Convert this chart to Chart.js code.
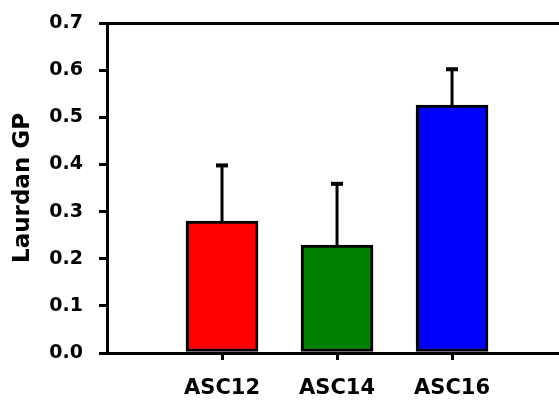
<!DOCTYPE html>
<html>
<head>
<meta charset="utf-8">
<script src="https://cdn.jsdelivr.net/npm/chart.js@4/dist/chart.umd.min.js"></script>
<style>
html,body{margin:0;padding:0;background:#fff;}
#wrap{width:559px;height:400px;}
</style>
</head>
<body>
<div id="wrap"><canvas id="c" width="559" height="400"></canvas></div>
<script>
const categories = ['ASC12', 'ASC14', 'ASC16'];
const positions = [1, 2, 3];
const values = [0.280, 0.229, 0.526];
const errors = [0.120, 0.132, 0.078];
const colors = ['#ff0000', '#008000', '#0000ff'];
const yTicks = [0, 0.1, 0.2, 0.3, 0.4, 0.5, 0.6, 0.7];
const xMax = 3.93;

const FONT = 'DejaVu Sans';

const errorBarPlugin = {
  id: 'errorBars',
  afterDatasetsDraw(chart) {
    const ctx = chart.ctx;
    const xs = chart.scales.x, ys = chart.scales.y;
    ctx.save();
    ctx.strokeStyle = '#000';
    ctx.lineCap = 'butt';
    values.forEach((v, i) => {
      const px = xs.getPixelForValue(positions[i]);
      const y0 = ys.getPixelForValue(v);
      const y1 = ys.getPixelForValue(v + errors[i]);
      ctx.lineWidth = 3;
      ctx.beginPath();
      ctx.moveTo(px, y0);
      ctx.lineTo(px, y1);
      ctx.stroke();
      ctx.lineWidth = 4;
      ctx.beginPath();
      ctx.moveTo(px - 6, y1 + 1);
      ctx.lineTo(px + 6, y1 + 1);
      ctx.stroke();
    });
    ctx.restore();
  }
};

new Chart(document.getElementById('c'), {
  type: 'bar',
  data: {
    datasets: [{
      data: positions.map((p, i) => ({x: p, y: values[i]})),
      backgroundColor: colors,
      borderColor: '#000',
      borderWidth: 3,
      borderSkipped: false,
      barThickness: 72
    }]
  },
  options: {
    responsive: false,
    animation: false,
    layout: {padding: {left: 0, right: 0, top: 23, bottom: 0}},
    plugins: {legend: {display: false}, tooltip: {enabled: false}},
    scales: {
      x: {
        type: 'linear',
        offset: false,
        min: 0,
        max: xMax,
        afterBuildTicks(s) { s.ticks = positions.map(v => ({value: v})); },
        afterFit(s) { s.height = 47; s.paddingLeft = 0; s.paddingRight = 0; },
        ticks: {
          callback: (v) => categories[positions.indexOf(v)] || '',
          color: '#000',
          font: {family: FONT, size: 21, weight: 'bold'},
          padding: 16,
          maxRotation: 0
        },
        grid: {offset: false, drawOnChartArea: false, drawTicks: true, tickLength: 7, color: '#000', lineWidth: 3},
        border: {display: true, color: '#000', width: 3}
      },
      x2: {
        type: 'linear',
        position: 'top',
        offset: false,
        min: 0,
        max: xMax,
        afterFit(s) { s.height = 0; s.paddingLeft = 0; s.paddingRight = 0; },
        ticks: {display: false},
        grid: {display: false, drawTicks: false},
        border: {display: true, color: '#000', width: 3}
      },
      y: {
        min: 0,
        max: 0.7,
        afterBuildTicks(s) { s.ticks = yTicks.map(v => ({value: v})); },
        afterFit(s) { s.width = 107; s.paddingTop = 0; s.paddingBottom = 0; },
        ticks: {
          callback: (v) => v.toFixed(1),
          color: '#000',
          font: {family: FONT, size: 19, weight: 'bold'},
          padding: 16
        },
        title: {
          display: true,
          text: 'Laurdan GP',
          color: '#000',
          font: {family: FONT, size: 23, weight: 'bold'},
          padding: {top: 9, bottom: 0}
        },
        grid: {drawOnChartArea: false, drawTicks: true, tickLength: 8, color: '#000', lineWidth: 3},
        border: {display: true, color: '#000', width: 3}
      }
    }
  },
  plugins: [errorBarPlugin]
});
</script>
</body>
</html>
